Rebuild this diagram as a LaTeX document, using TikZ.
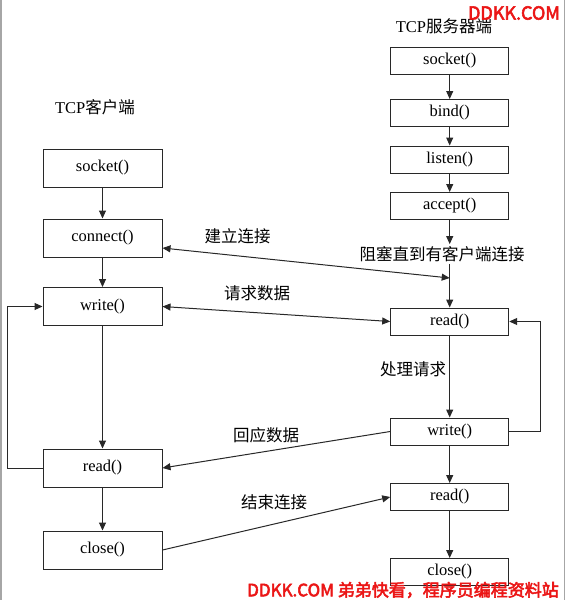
\documentclass[tikz,border=0pt]{standalone}
\usepackage{fontspec}
\setmainfont{Liberation Serif}
\newfontfamily\cjk{Noto Sans CJK SC}
\newfontfamily\wmfont[FakeBold=3]{Noto Sans CJK SC}
\usetikzlibrary{arrows.meta}
\definecolor{wmred}{RGB}{235,22,22}
\definecolor{ln}{RGB}{40,40,40}
\tikzset{
  x=1pt, y=-1pt,
  cbox/.style={draw=ln, line width=1pt, minimum width=119pt, minimum height=38pt, inner sep=0pt, font=\fontsize{16.5}{18}\selectfont},
  sbox/.style={draw=ln, line width=1pt, minimum width=118pt, minimum height=27pt, inner sep=0pt, font=\fontsize{16.5}{18}\selectfont},
  lbl/.style={inner sep=2pt, font=\fontsize{16.5}{18}\selectfont\cjk},
  ttl/.style={inner sep=0pt, font=\fontsize{16.5}{18}\selectfont},
  conn/.style={draw=ln, line width=1pt, -{Triangle[length=8pt,width=7pt]}},
  conn2/.style={draw=ln, line width=1pt, {Triangle[length=8pt,width=7pt]}-{Triangle[length=8pt,width=7pt]}},
  wm/.style={inner sep=0pt, text=wmred, font=\wmfont}
}
\begin{document}
\begin{tikzpicture}
\useasboundingbox (0,0) rectangle (567,600);
\fill[white] (0,0) rectangle (567,600);
\draw[gray!70, line width=1.5pt] (1,0) -- (1,600);
\draw[gray!70, line width=1.5pt] (564.5,0) -- (564.5,600);

% titles
\node[ttl] (ctitle) at (95,107) {TCP{\cjk 客户端}};
\node[ttl] (stitle) at (444,26) {TCP{\cjk 服务器端}};

% client column
\node[cbox] (csocket) at (102.5,168) {socket()};
\node[cbox] (cconnect) at (102.5,238) {connect()};
\node[cbox] (cwrite) at (102.5,306.5) {write()};
\node[cbox] (cread) at (102.5,468) {read()};
\node[cbox] (cclose) at (102.5,550) {close()};

% server column
\node[sbox] (ssocket) at (449.7,60.5) {socket()};
\node[sbox] (sbind) at (449.7,113) {bind()};
\node[sbox] (slisten) at (449.7,159.5) {listen()};
\node[sbox] (saccept) at (449.7,206) {accept()};
\node[lbl] (block) at (442,254) {阻塞直到有客户端连接};
\node[sbox] (sread) at (449.7,321.5) {read()};
\node[sbox] (swrite) at (449.7,431.5) {write()};
\node[sbox] (sread2) at (449.7,497) {read()};
\node[sbox] (sclose) at (449.7,572) {close()};

\coordinate (cpoint) at (449.7,278);

% labels
\node[lbl] (l1) at (237.5,236) {建立连接};
\node[lbl] (l2) at (257,293) {请求数据};
\node[lbl] (l3) at (413,369) {处理请求};
\node[lbl] (l4) at (266,435) {回应数据};
\node[lbl] (l5) at (274,502) {结束连接};

% client arrows
\draw[conn] (csocket) -- (cconnect);
\draw[conn] (cconnect) -- (cwrite);
\draw[conn] (cwrite) -- (cread);
\draw[conn] (cread) -- (cclose);
\draw[conn] (cread.west) -- ++(-35,0) |- (cwrite.west);

% server arrows
\draw[conn] (ssocket) -- (sbind);
\draw[conn] (sbind) -- (slisten);
\draw[conn] (slisten) -- (saccept);
\draw[conn] (saccept.south) -- (saccept.south |- block.north);
\draw[conn] (saccept.south |- block.south) -- (sread.north);
\draw[conn] (sread) -- (swrite);
\draw[conn] (swrite) -- (sread2);
\draw[conn] (sread2) -- (sclose);
\draw[conn] (swrite.east) -- ++(31,0) |- (sread.east);

% cross arrows
\draw[conn2] ([yshift=-10pt]cconnect.east) -- (cpoint);
\draw[conn2] (cwrite.east) -- (sread.west);
\draw[conn] (swrite.west) -- (cread.east);
\draw[conn] (cclose.east) -- (sread2.west);

% watermarks
\node[wm, font=\wmfont\fontsize{18}{20}\selectfont] (wm1) at (514,13) {DDKK.COM};
\node[wm, font=\wmfont\fontsize{17}{19}\selectfont] (wm2) at (403,590) {DDKK.COM 弟弟快看，程序员编程资料站};
\end{tikzpicture}
\end{document}
